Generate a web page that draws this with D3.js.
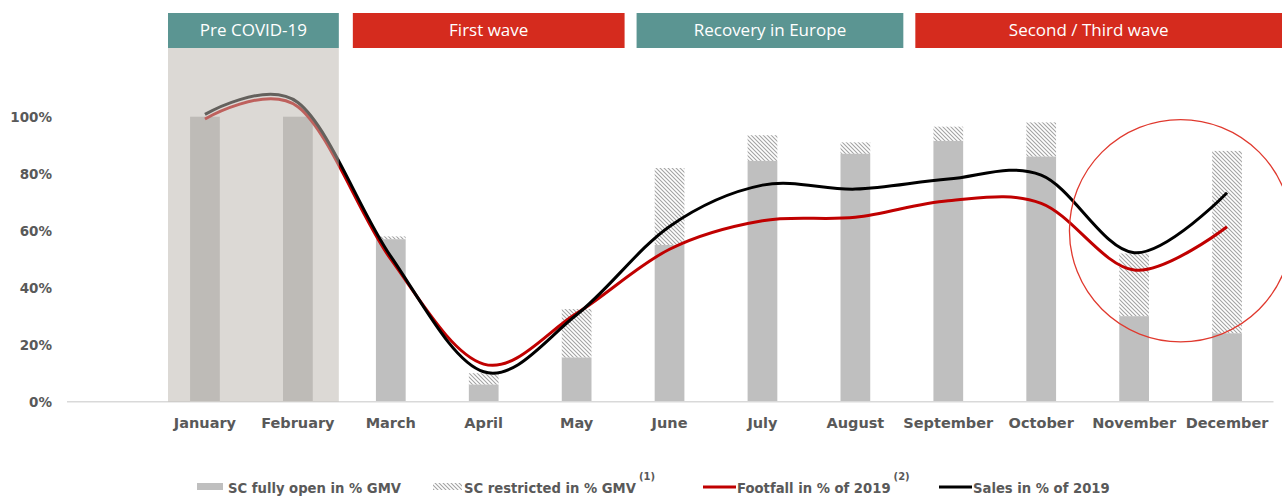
<!DOCTYPE html>
<html>
<head>
<meta charset="utf-8">
<script src="https://cdn.jsdelivr.net/npm/d3@7"></script>
<style>
  body { margin: 0; background: #fff; }
  svg { display: block; }
  .tick text { font-family: "DejaVu Sans", Verdana, sans-serif; font-weight: bold; fill: #595959; }
  .phase text { font-family: "Open Sans", sans-serif; fill: #fff; }
  .legend text { font-family: "DejaVu Sans", Verdana, sans-serif; font-weight: bold; fill: #595959; }
</style>
</head>
<body>
<svg id="chart"></svg>
<script>
const width = 1282;
const height = 496;

// values, in %
const months = ["January", "February", "March", "April", "May", "June",
    "July", "August", "September", "October", "November", "December"];
const fullyOpen = [100, 100, 57, 6, 15.5, 55, 84.5, 87, 91.5, 86, 30, 24];
const restricted = [0, 0, 1, 4, 17, 27, 9, 4, 5, 12, 22, 64];
const footfall = [99.2, 103.5, 50, 13.2, 31, 53.5, 63.5, 64.7, 70.5, 69.6, 46.2, 61.4];
const sales = [100.8, 105, 51, 10.5, 30.5, 61.5, 76, 74.6, 78.1, 79.5, 52.3, 73.3];
const yTicks = [0, 20, 40, 60, 80, 100];

const phaseLabels = ["Pre COVID-19", "First wave", "Recovery in Europe", "Second / Third wave"];
const phaseFrom = ["January", "March", "June", "September"];
const phaseTo = ["February", "May", "August", "December"];
const phaseColors = ["#5b9592", "#d52b1e", "#5b9592", "#d52b1e"];

const legendLabels = ["SC fully open in % GMV", "SC restricted in % GMV", "Footfall in % of 2019", "Sales in % of 2019"];
const legendNotes = ["", "(1)", "(2)", ""];

let svg = d3.select("#chart")
    .attr("width", width)
    .attr("height", height);

let x = d3.scaleBand()
    .domain(months)
    .range([158.5, 1273.5])
    .paddingInner(0.68)
    .paddingOuter(0.34);

let y = d3.scaleLinear()
    .domain([0, 100])
    .range([401.7, 116.7]);

let step = x.step();
let bw = x.bandwidth();
let cx = m => x(m) + bw / 2;
let bandStart = m => cx(m) - step / 2;
let bandEnd = m => cx(m) + step / 2;

// hatch for the restricted part
let defs = svg.append("defs");
defs.append("pattern")
    .attr("id", "hatch")
    .attr("patternUnits", "userSpaceOnUse")
    .attr("width", 4).attr("height", 4)
    .append("path")
    .attr("d", "M-1,-1 L5,5 M3,-1 L5,1 M-1,3 L1,5")
    .attr("stroke", "#a3a3a3")
    .attr("stroke-width", 1.1);

let rows = months.map((m, i) => ({ m: m, full: fullyOpen[i], res: restricted[i] }));

// bars
svg.append("g").selectAll("rect")
    .data(rows)
    .join("rect")
    .attr("x", d => x(d.m))
    .attr("width", bw)
    .attr("y", d => y(d.full))
    .attr("height", d => y(0) - y(d.full))
    .attr("fill", "#bfbfbf");

svg.append("g").selectAll("rect")
    .data(rows.filter(d => d.res > 0))
    .join("rect")
    .attr("x", d => x(d.m))
    .attr("width", bw)
    .attr("y", d => y(d.full + d.res))
    .attr("height", d => y(d.full) - y(d.full + d.res))
    .attr("fill", "url(#hatch)");

// axis line
svg.append("line")
    .attr("x1", 67).attr("x2", x.range()[1])
    .attr("y1", y(0)).attr("y2", y(0))
    .attr("stroke", "#d9d9d9")
    .attr("stroke-width", 1.5);

// smooth lines
let line = d3.line()
    .x((d, i) => cx(months[i]))
    .y(d => y(d))
    .curve(d3.curveCardinal.tension(0));

svg.append("path")
    .datum(footfall)
    .attr("d", line)
    .attr("fill", "none")
    .attr("stroke", "#c00000")
    .attr("stroke-width", 3);

svg.append("path")
    .datum(sales)
    .attr("d", line)
    .attr("fill", "none")
    .attr("stroke", "#000")
    .attr("stroke-width", 3);

// phase boxes
const boxTop = 13, boxBottom = 48;
let phases = phaseLabels.map((p, i) => ({
    label: p,
    x0: bandStart(phaseFrom[i]) + (i == 0 ? 9.5 : i == 1 ? 8.5 : 13.5),
    x1: i == phaseLabels.length - 1 ? width : bandEnd(phaseTo[i]) + (i == 0 ? -5.5 : 1.5),
    color: phaseColors[i]
}));

// pre covid shading sits on top of bars and lines
svg.append("rect")
    .attr("x", phases[0].x0)
    .attr("width", phases[0].x1 - phases[0].x0)
    .attr("y", boxBottom)
    .attr("height", y(0) - boxBottom)
    .attr("fill", "rgb(189,183,176)")
    .attr("fill-opacity", 0.53);

let pg = svg.append("g").attr("class", "phase")
    .selectAll("g")
    .data(phases)
    .join("g");

pg.append("rect")
    .attr("x", d => d.x0)
    .attr("y", boxTop)
    .attr("width", d => d.x1 - d.x0)
    .attr("height", boxBottom - boxTop)
    .attr("fill", d => d.color);

pg.append("text")
    .attr("x", (d, i) => i == phases.length - 1 ? (d.x0 + width - 20) / 2 : (d.x0 + d.x1) / 2)
    .attr("y", (boxTop + boxBottom) / 2)
    .attr("dy", "0.35em")
    .attr("text-anchor", "middle")
    .attr("font-size", 17)
    .text(d => d.label);

// axes
let yAxis = svg.append("g")
    .attr("transform", "translate(67,0)")
    .call(d3.axisLeft(y).tickValues(yTicks).tickFormat(d => d + "%").tickSize(0).tickPadding(15));
yAxis.select(".domain").remove();
yAxis.selectAll("text").attr("font-size", 13.5);

let xAxis = svg.append("g")
    .attr("transform", "translate(0," + y(0) + ")")
    .call(d3.axisBottom(x).tickSize(0).tickPadding(16));
xAxis.select(".domain").remove();
xAxis.selectAll("text").attr("font-size", 14.5);

// highlight circle round November / December
svg.append("circle")
    .attr("cx", (cx("November") + cx("December")) / 2)
    .attr("cy", y(60))
    .attr("r", y(0) - y(39))
    .attr("fill", "none")
    .attr("stroke", "#e0392e")
    .attr("stroke-width", 1.3);

// legend
const legendX = [197, 433, 703, 939];
const legendY = 493;
let lg = svg.append("g").attr("class", "legend")
    .selectAll("g")
    .data(legendLabels)
    .join("g")
    .attr("transform", (d, i) => "translate(" + legendX[i] + "," + legendY + ")");

lg.each(function(d, i) {
    let g = d3.select(this);
    let textX;
    if (i < 2) {
        g.append("rect")
            .attr("x", 0).attr("y", -10)
            .attr("width", i == 0 ? 26 : 29).attr("height", 7)
            .attr("fill", i == 0 ? "#bfbfbf" : "url(#hatch)");
        textX = 31;
    } else {
        g.append("line")
            .attr("x1", 0).attr("x2", 33)
            .attr("y1", -6).attr("y2", -6)
            .attr("stroke", i == 2 ? "#c00000" : "#000")
            .attr("stroke-width", 3);
        textX = 34;
    }
    let t = g.append("text")
        .attr("x", textX)
        .attr("font-size", 13.2)
        .text(d);
    if (legendNotes[i]) {
        g.append("text")
            .attr("x", textX + t.node().getComputedTextLength() + 3)
            .attr("y", -13)
            .attr("font-size", 10)
            .attr("font-weight", "normal")
            .text(legendNotes[i]);
    }
});
</script>
</body>
</html>
